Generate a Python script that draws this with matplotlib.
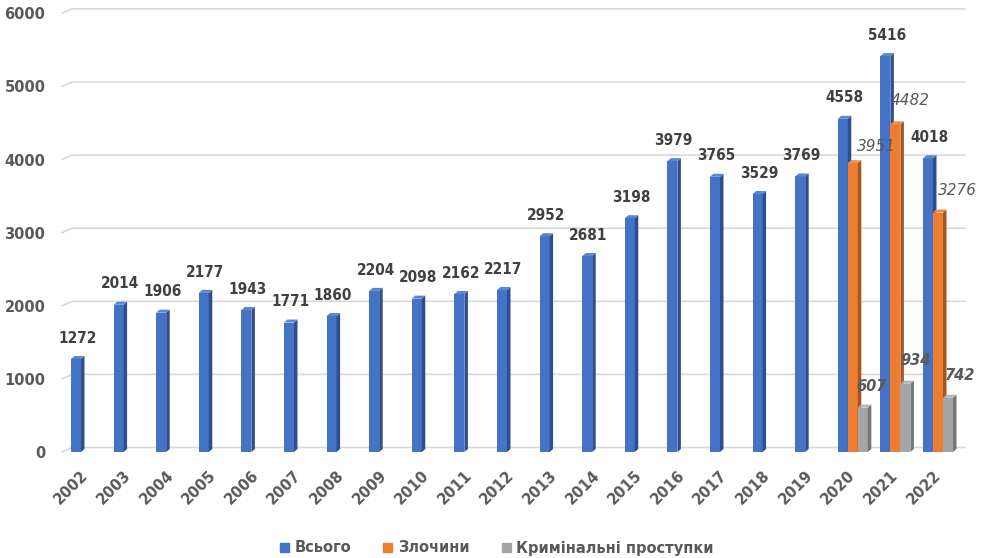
import numpy as np
import matplotlib.pyplot as plt
import matplotlib.transforms as mtransforms
from matplotlib.patches import Polygon, Patch
from matplotlib import font_manager

# data
years = [str(y) for y in range(2002, 2023)]
total = [1272, 2014, 1906, 2177, 1943, 1771, 1860, 2204, 2098, 2162, 2217,
         2952, 2681, 3198, 3979, 3765, 3529, 3769, 4558, 5416, 4018]
split_years = ['2020', '2021', '2022']
crimes = [3951, 4482, 3276]
offences = [607, 934, 742]
labels = ['Всього', 'Злочини', 'Кримінальні проступки']

blue, blue_side, blue_top = '#4472C4', '#2F4F8C', '#5A85D0'
orange, orange_side, orange_top = '#ED7D31', '#A8561F', '#F08F4D'
grey, grey_side, grey_top = '#A5A5A5', '#767676', '#B4B4B4'
txt = '#595959'

W, H = 982, 558
fig = plt.figure(figsize=(W / 100, H / 100), dpi=100)
ax_l, ax_r, ax_b, ax_t = 62, 960, 452, 13.4
ax = fig.add_axes([ax_l / W, 1 - ax_b / H, (ax_r - ax_l) / W, (ax_b - ax_t) / H])
px_x = 42.6
ax.set_xlim(-24 / px_x, (ax_r - 86) / px_x)
ax.set_ylim(0, 6000)
px_y = (ax_b - ax_t) / 6000.0
for s in ax.spines.values():
    s.set_visible(False)

w = 0.235
dx = 3.5 / px_x
dy = 3.0 / px_y


def bars3d(xs, vals, c, cs, ct):
    ax.bar(xs, vals, w, color=c, zorder=3, linewidth=0)
    for x, v in zip(xs, vals):
        r = x + w / 2
        l = x - w / 2
        ax.add_patch(Polygon([(r, 0), (r + dx, dy), (r + dx, v + dy), (r, v)],
                             closed=True, color=cs, zorder=3, lw=0))
        ax.add_patch(Polygon([(l, v), (l + dx, v + dy), (r + dx, v + dy), (r, v)],
                             closed=True, color=ct, zorder=3, lw=0))


xpos = np.arange(len(years))
sx = np.array([years.index(y) for y in split_years])
bars3d(xpos - w, total, blue, blue_side, blue_top)
bars3d(sx, crimes, orange, orange_side, orange_top)
bars3d(sx + w, offences, grey, grey_side, grey_top)

# gridlines on the back wall with the little slanted floor edge
blend = mtransforms.blended_transform_factory(ax.transAxes, ax.transData)
back = 4.5 / px_y
for v in range(0, 7000, 1000):
    ax.plot([0, 10 / (ax_r - ax_l), 1 + 5 / (ax_r - ax_l)], [v, v + back, v + back],
            color='#D9D9D9', lw=1.2, transform=blend, clip_on=False, zorder=1)

ax.set_yticks(range(0, 7000, 1000))
ax.set_yticklabels([str(v) for v in range(0, 7000, 1000)])
ax.tick_params(axis='y', length=0, pad=12, labelsize=10.5, labelcolor=txt)
ax.set_xticks(xpos)
ax.set_xticklabels(years, rotation=45, ha='right', rotation_mode='anchor', va='center')
ax.tick_params(axis='x', length=0, pad=15, labelsize=10.5, labelcolor=txt)
for t in ax.get_yticklabels() + ax.get_xticklabels():
    t.set_fontweight('bold')

# value labels: condensed bold face for the totals
names = {f.name for f in font_manager.fontManager.ttflist}
if 'Liberation Sans Narrow' in names:
    lab_font = dict(family='Liberation Sans Narrow', fontsize=12.5)
else:
    lab_font = dict(family='DejaVu Sans', fontstretch='condensed', fontsize=11)
for x, v in zip(xpos - w, total):
    ax.annotate(str(v), (x, v), xytext=(1, 15), textcoords='offset points',
                ha='center', va='center', fontweight='bold',
                color='#404040', zorder=5, **lab_font)

crime_shift = [(17, 12), (11, 17), (14, 16)]
for x, v, (ox, oy) in zip(sx, crimes, crime_shift):
    ax.annotate(str(v), (x, v), xytext=(ox, oy), textcoords='offset points',
                ha='center', va='center', fontsize=11, fontstyle='italic',
                color=txt, zorder=5)
off_shift = [(6, 15), (7, 17), (9, 16)]
for x, v, (ox, oy) in zip(sx + w, offences, off_shift):
    ax.annotate(str(v), (x, v), xytext=(ox, oy), textcoords='offset points',
                ha='center', va='center', fontsize=10.5, fontstyle='italic',
                fontweight='bold', color=txt, zorder=5)

handles = [Patch(color=c) for c in (blue, orange, grey)]
leg = fig.legend(handles, labels, loc='center', bbox_to_anchor=(497 / W, 1 - 548 / H),
                 ncol=3, frameon=False, handlelength=0.6, handleheight=0.6,
                 handletextpad=0.4, columnspacing=2.2,
                 prop={'weight': 'bold', 'size': 10.5})
for t in leg.get_texts():
    t.set_color(txt)

fig.savefig('out.png', dpi=100)
